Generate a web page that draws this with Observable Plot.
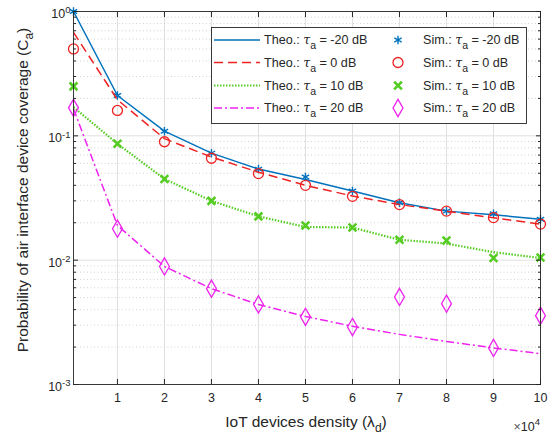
<!DOCTYPE html>
<html><head><meta charset="utf-8">
<script src="https://cdn.jsdelivr.net/npm/d3@7"></script>
<script src="https://cdn.jsdelivr.net/npm/@observablehq/plot@0.6"></script>
<style>
body{margin:0;background:#fff}
svg{font-family:"Liberation Sans",Arial,sans-serif}
</style>
</head><body><div id="chart"></div>
<script>
// x values in units of 10^4 devices
const density = [0.065, 1, 2, 3, 4, 5, 6, 7, 8, 9, 10];
const theoM20 = [1.0, 0.211, 0.109, 0.0726, 0.054, 0.0445, 0.036, 0.029, 0.0248, 0.0232, 0.0213];
const simM20  = [1.0, 0.211, 0.109, 0.0726, 0.054, 0.0466, 0.036, 0.029, 0.0248, 0.0236, 0.0213];
const theo0   = [0.68, 0.195, 0.095, 0.0675, 0.051, 0.040, 0.0328, 0.028, 0.0248, 0.0219, 0.0195];
const sim0    = [0.5, 0.16, 0.0896, 0.066, 0.0497, 0.040, 0.0326, 0.028, 0.0248, 0.022, 0.0195];
const theo10  = [0.17, 0.0863, 0.045, 0.030, 0.0225, 0.0185, 0.0183, 0.0146, 0.0136, 0.0116, 0.0104];
const sim10   = [0.25, 0.0863, 0.045, 0.030, 0.0225, 0.019, 0.0183, 0.0146, 0.0144, 0.0104, 0.0105];
const theo20  = [0.165, 0.019, 0.0089, 0.0059, 0.0044, 0.00353, 0.00294, 0.00253, 0.00222, 0.00197, 0.00177];
const sim20   = [0.168, 0.0179, 0.0089, 0.0059, 0.0044, 0.0035, 0.0029, 0.00506, 0.00447, 0.00197, 0.00358];

const xTicks = [1, 2, 3, 4, 5, 6, 7, 8, 9, 10];
const yMajor = [1e-3, 1e-2, 1e-1, 1];
const yMinor = [-3, -2, -1].flatMap(e => [2,3,4,5,6,7,8,9].map(m => m * Math.pow(10, e)));
const tauLabels = ["-20 dB", "0 dB", "10 dB", "20 dB"];

const series = [
  {name: tauLabels[0], theo: theoM20, sim: simM20, color: "#0072BD", dash: null, lw: 1.5, symbol: "asterisk", r: 4, sw: 1.4},
  {name: tauLabels[1], theo: theo0, sim: sim0, color: "#EE2222", dash: "9,5", lw: 1.5, symbol: "circle", r: 5, sw: 1.3},
  {name: tauLabels[2], theo: theo10, sim: sim10, color: "#55CC22", dash: "1.5,1.5", lw: 2.2, symbol: "times", r: 3.6, sw: 2.6},
  {name: tauLabels[3], theo: theo20, sim: sim20, color: "#EE22EE", dash: "8,3,2,3", lw: 1.5, symbol: "diamond", r: 5.2, sw: 1.3}
];

const FONT = "'Liberation Sans', Arial, sans-serif";
const marks = [
  Plot.ruleX(xTicks, {stroke: "#e0e0e0", strokeWidth: 1}),
  Plot.ruleY(yMinor, {stroke: "#c8c8c8", strokeWidth: 0.8, strokeDasharray: "1,2.5"}),
  Plot.ruleY(yMajor, {stroke: "#e0e0e0", strokeWidth: 1}),
];
for (const s of series) {
  const rows = density.map((d, i) => ({x: d, theo: s.theo[i], sim: s.sim[i]}));
  marks.push(Plot.line(rows, {x: "x", y: "theo", stroke: s.color, strokeWidth: s.lw, strokeDasharray: s.dash, strokeLinecap: "butt"}));
  marks.push(Plot.dot(rows, {x: "x", y: "sim", stroke: s.color, symbol: () => s.symbol, r: s.r, strokeWidth: s.sw, fill: "none"}));
}
marks.push(
  Plot.frame({stroke: "#262626", strokeWidth: 0.9}),
  Plot.axisX(xTicks, {anchor: "bottom", tickSize: -5, tickPadding: 14, fontSize: 12.5, fill: "#262626", stroke: "#262626", label: null}),
  Plot.axisX(xTicks, {anchor: "top", tickSize: -5, tickFormat: () => "", stroke: "#262626", label: null}),
  Plot.axisY(yMajor, {anchor: "left", tickSize: -5, tickPadding: 8, fontSize: 12.5, fill: "#262626", stroke: "#262626", label: null,
    tickFormat: d => "10|" + Math.round(Math.log10(d))}),
  Plot.axisY(yMajor, {anchor: "right", tickSize: -5, tickFormat: () => "", stroke: "#262626", label: null}),
  Plot.axisY(yMinor, {anchor: "left", tickSize: -3, tickFormat: () => "", stroke: "#262626", label: null}),
  Plot.axisY(yMinor, {anchor: "right", tickSize: -3, tickFormat: () => "", stroke: "#262626", label: null})
);

const chart = Plot.plot({
  width: 558, height: 437,
  marginLeft: 73, marginRight: 18, marginTop: 11, marginBottom: 53,
  x: {domain: [0.065, 10]},
  y: {type: "log", domain: [1e-3, 1]},
  style: {fontFamily: FONT, background: "#fff"},
  marks
});
document.getElementById("chart").appendChild(chart);

const svg = d3.select(chart);
svg.attr("font-family", FONT);
svg.selectAll('g[aria-label$="tick label"]').attr("font-family", FONT).attr("font-size", "12.5px");
svg.selectAll('g[aria-label$="tick label"] text').attr("font-family", FONT).attr("font-size", "12.5px")
  .style("font-size", "12.5px").style("font-family", FONT);
// superscripts on y tick labels, nudged slightly down as in the reference
svg.selectAll('g[aria-label="y-axis tick label"]').each(function() {
  const g = d3.select(this);
  g.attr("transform", (g.attr("transform") || "") + " translate(0,2.5)");
});
svg.selectAll('g[aria-label="y-axis tick label"] text').each(function() {
  const t = d3.select(this);
  const [b, e] = t.text().split("|");
  t.text(b);
  t.append("tspan").attr("dy", "-0.5em").style("font-size", "9.5px").text(e);
});

const ink = "#262626";
// axis labels
const xl = svg.append("text").attr("x", 306).attr("y", 427).attr("text-anchor", "middle")
  .attr("font-size", 15.5).attr("font-family", FONT).attr("fill", ink);
xl.append("tspan").text("IoT devices density (λ");
xl.append("tspan").attr("dy", 5).attr("font-size", 12).text("d");
xl.append("tspan").attr("dy", -5).text(")");

const yl = svg.append("text").attr("transform", "translate(28,190) rotate(-90)").attr("text-anchor", "middle")
  .attr("font-size", 15.5).attr("font-family", FONT).attr("fill", ink);
yl.append("tspan").text("Probability of air interface device coverage (C");
yl.append("tspan").attr("dy", 5).attr("font-size", 12).text("a");
yl.append("tspan").attr("dy", -5).text(")");

const ex = svg.append("text").attr("x", 540).attr("y", 431).attr("text-anchor", "end")
  .attr("font-size", 12.5).attr("font-family", FONT).attr("fill", ink);
ex.append("tspan").attr("fill", "#555").text("×");
ex.append("tspan").text("10");
ex.append("tspan").attr("dy", -6).attr("font-size", 9.5).text("4");

// legend
const lg = svg.append("g").attr("text-anchor", "start").attr("font-family", FONT);
lg.append("rect").attr("x", 211.5).attr("y", 27.5).attr("width", 315).attr("height", 96)
  .attr("fill", "#fff").attr("stroke", ink).attr("stroke-width", 0.9);
const rowsY = [40, 62.5, 85.5, 108];
const symMap = {asterisk: d3.symbolAsterisk, circle: d3.symbolCircle, times: d3.symbolTimes, diamond: d3.symbolDiamond};
function label(g, x, y, pre, name) {
  const t = g.append("text").attr("x", x).attr("y", y + 4).attr("text-anchor", "start")
    .attr("font-size", 12.6).attr("fill", ink);
  t.append("tspan").text(pre + " ");
  t.append("tspan").attr("font-style", "italic").attr("font-family", "'DejaVu Serif', serif").attr("font-size", 12.6).text("τ");
  t.append("tspan").attr("dy", 5).attr("font-size", 10.5).text("a");
  t.append("tspan").attr("dy", -5).text(" = " + name);
}
series.forEach((s, i) => {
  const y = rowsY[i];
  lg.append("line").attr("x1", 214).attr("x2", 260).attr("y1", y).attr("y2", y)
    .attr("stroke", s.color).attr("stroke-width", s.lw).attr("stroke-dasharray", s.dash);
  label(lg, 264, y, "Theo.:", s.name);
  lg.append("path").attr("transform", `translate(398,${y})`)
    .attr("d", d3.symbol(symMap[s.symbol], s.r * s.r * Math.PI)())
    .attr("fill", "none").attr("stroke", s.color).attr("stroke-width", s.sw);
  label(lg, 423, y, "Sim.:", s.name);
});
</script>
</body></html>
